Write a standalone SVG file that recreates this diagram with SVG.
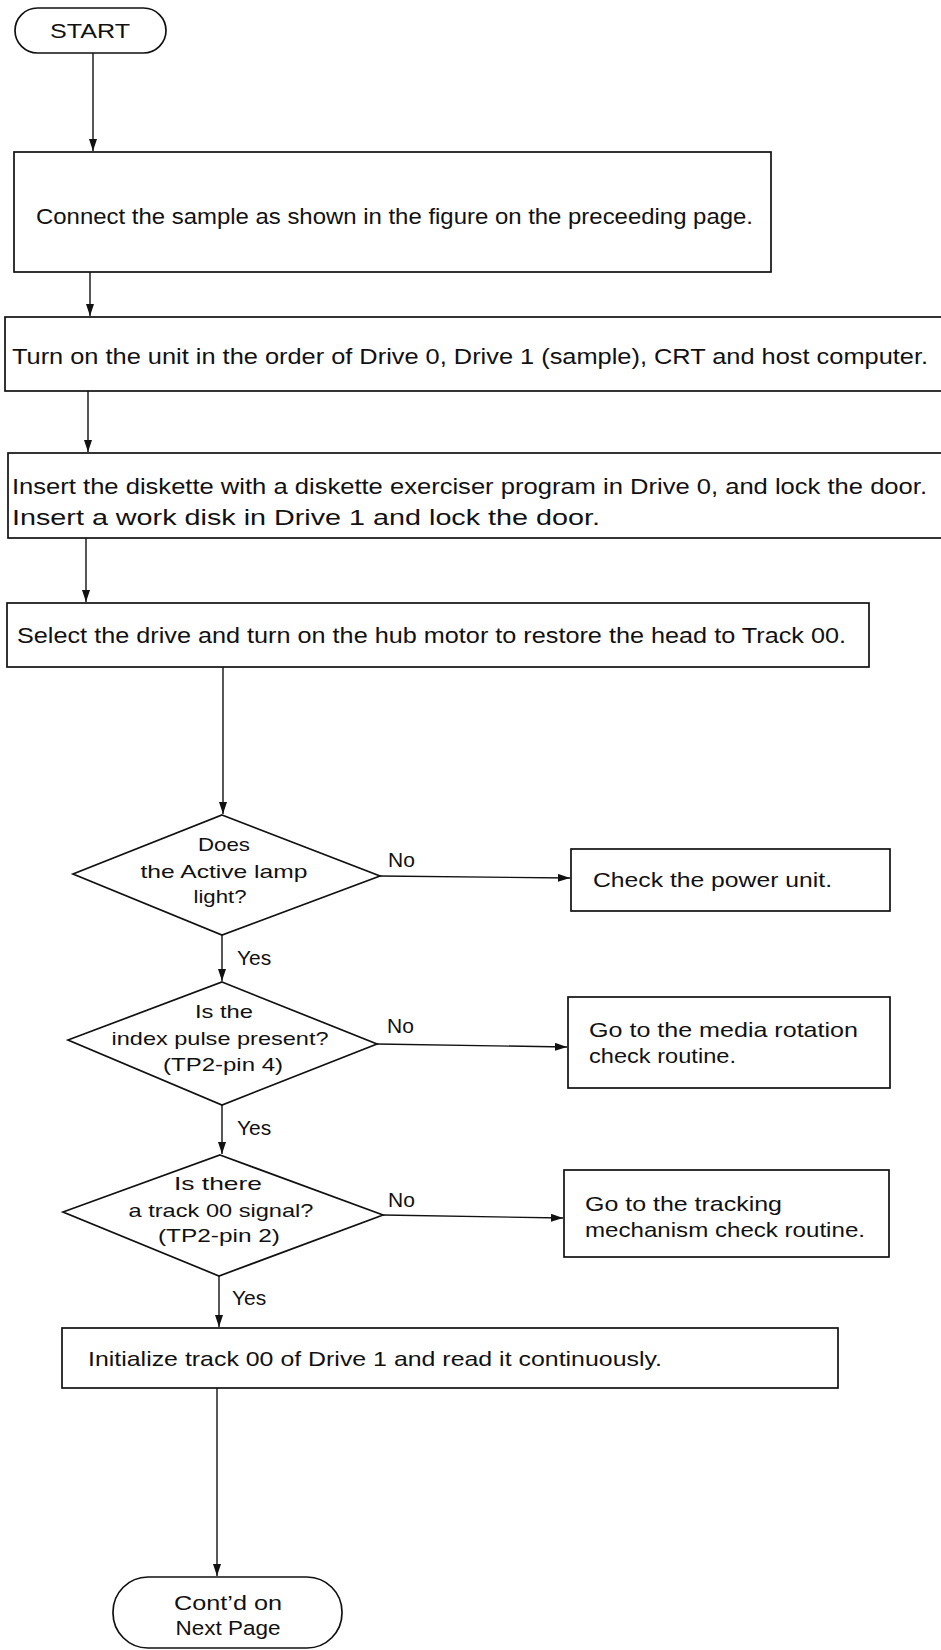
<svg xmlns="http://www.w3.org/2000/svg" width="941" height="1650" viewBox="0 0 941 1650">
  <defs>
    <marker id="ah" viewBox="0 0 12 8" refX="12" refY="4" markerWidth="12" markerHeight="8" orient="auto" markerUnits="userSpaceOnUse">
      <path d="M0,0 L12,4 L0,8 z" fill="#111"/>
    </marker>
    <style>
      .shape { fill: #fff; stroke: #111; stroke-width: 1.7; }
      .edge { fill: none; stroke: #111; stroke-width: 1.4; marker-end: url(#ah); }
      text { font-family: "Liberation Sans", Arial, sans-serif; fill: #111; }
      .t { font-size: 21px; }
      .w { font-size: 22px; }
      .d { font-size: 18.5px; text-anchor: middle; }
      .lbl { font-size: 21px; }
    </style>
  </defs>
  <rect width="941" height="1650" fill="#fff"/>

  <!-- connectors and branch labels -->
  <g id="connectors">
    <path class="edge" d="M93,53 V151"/>
    <path class="edge" d="M90,272 V316"/>
    <path class="edge" d="M88,391 V452"/>
    <path class="edge" d="M86,538 V602"/>
    <path class="edge" d="M223,667 V814"/>
    <path class="edge" d="M222,935 V981"/>
    <path class="edge" d="M222,1105 V1154"/>
    <path class="edge" d="M219,1276 V1327"/>
    <path class="edge" d="M217,1388 V1576"/>
    <path class="edge" d="M380,876 L570,878"/>
    <path class="edge" d="M377,1044 L567,1047"/>
    <path class="edge" d="M383,1215 L563,1218"/>
    <text class="lbl" x="388" y="867">No</text>
    <text class="lbl" x="387" y="1033">No</text>
    <text class="lbl" x="388" y="1207">No</text>
    <text class="lbl" x="237" y="965">Yes</text>
    <text class="lbl" x="237" y="1135">Yes</text>
    <text class="lbl" x="232" y="1305">Yes</text>
  </g>

  <g id="start">
    <rect class="shape" x="15" y="8" width="151" height="45" rx="22.5"/>
    <text x="90" y="38" font-size="21" text-anchor="middle" textLength="80" lengthAdjust="spacingAndGlyphs">START</text>
  </g>

  <g id="connect">
    <rect class="shape" x="14" y="152" width="757" height="120"/>
    <text class="w" x="36" y="224" textLength="717" lengthAdjust="spacingAndGlyphs">Connect the sample as shown in the figure on the preceeding page.</text>
  </g>

  <g id="power-on">
    <rect class="shape" x="5" y="317" width="950" height="74"/>
    <text class="w" x="12" y="364" textLength="916" lengthAdjust="spacingAndGlyphs">Turn on the unit in the order of Drive 0, Drive 1 (sample), CRT and host computer.</text>
  </g>

  <g id="insert">
    <rect class="shape" x="8" y="453" width="950" height="85"/>
    <text class="w" x="12" y="494" textLength="915" lengthAdjust="spacingAndGlyphs">Insert the diskette with a diskette exerciser program in Drive 0, and lock the door.</text>
    <text class="w" x="12" y="525" textLength="588" lengthAdjust="spacingAndGlyphs">Insert a work disk in Drive 1 and lock the door.</text>
  </g>

  <g id="select">
    <rect class="shape" x="7" y="603" width="862" height="64"/>
    <text class="w" x="17" y="643" textLength="829" lengthAdjust="spacingAndGlyphs">Select the drive and turn on the hub motor to restore the head to Track 00.</text>
  </g>

  <g id="q-active">
    <polygon class="shape" points="222,815 380,876 222,935 73,874"/>
    <text class="d" x="224" y="851" textLength="52" lengthAdjust="spacingAndGlyphs">Does</text>
    <text class="d" x="224" y="878" textLength="167" lengthAdjust="spacingAndGlyphs">the Active lamp</text>
    <text class="d" x="220" y="903" textLength="53" lengthAdjust="spacingAndGlyphs">light?</text>
  </g>

  <g id="power-check">
    <rect class="shape" x="571" y="849" width="319" height="62"/>
    <text class="t" x="593" y="887" textLength="239" lengthAdjust="spacingAndGlyphs">Check the power unit.</text>
  </g>

  <g id="q-index">
    <polygon class="shape" points="222,982 377,1044 222,1105 68,1040"/>
    <text class="d" x="224" y="1018" textLength="58" lengthAdjust="spacingAndGlyphs">Is the</text>
    <text class="d" x="220" y="1045" textLength="217" lengthAdjust="spacingAndGlyphs">index pulse present?</text>
    <text class="d" x="223" y="1071" textLength="120" lengthAdjust="spacingAndGlyphs">(TP2-pin 4)</text>
  </g>

  <g id="media-check">
    <rect class="shape" x="568" y="997" width="322" height="91"/>
    <text class="t" x="589" y="1037" textLength="269" lengthAdjust="spacingAndGlyphs">Go to the media rotation</text>
    <text class="t" x="589" y="1063" textLength="147" lengthAdjust="spacingAndGlyphs">check routine.</text>
  </g>

  <g id="q-track">
    <polygon class="shape" points="220,1155 383,1215 219,1276 63,1212"/>
    <text class="d" x="218" y="1190" textLength="88" lengthAdjust="spacingAndGlyphs">Is there</text>
    <text class="d" x="221" y="1217" textLength="185" lengthAdjust="spacingAndGlyphs">a track 00 signal?</text>
    <text class="d" x="219" y="1242" textLength="122" lengthAdjust="spacingAndGlyphs">(TP2-pin 2)</text>
  </g>

  <g id="tracking-check">
    <rect class="shape" x="564" y="1170" width="325" height="87"/>
    <text class="t" x="585" y="1211" textLength="197" lengthAdjust="spacingAndGlyphs">Go to the tracking</text>
    <text class="t" x="585" y="1237" textLength="280" lengthAdjust="spacingAndGlyphs">mechanism check routine.</text>
  </g>

  <g id="initialize">
    <rect class="shape" x="62" y="1328" width="776" height="60"/>
    <text class="t" x="88" y="1366" textLength="574" lengthAdjust="spacingAndGlyphs">Initialize track 00 of Drive 1 and read it continuously.</text>
  </g>

  <g id="continued">
    <rect class="shape" x="113" y="1577" width="229" height="71" rx="35"/>
    <text x="228" y="1610" font-size="20" text-anchor="middle" textLength="108" lengthAdjust="spacingAndGlyphs">Cont’d on</text>
    <text x="228" y="1635" font-size="20" text-anchor="middle" textLength="105" lengthAdjust="spacingAndGlyphs">Next Page</text>
  </g>
</svg>
